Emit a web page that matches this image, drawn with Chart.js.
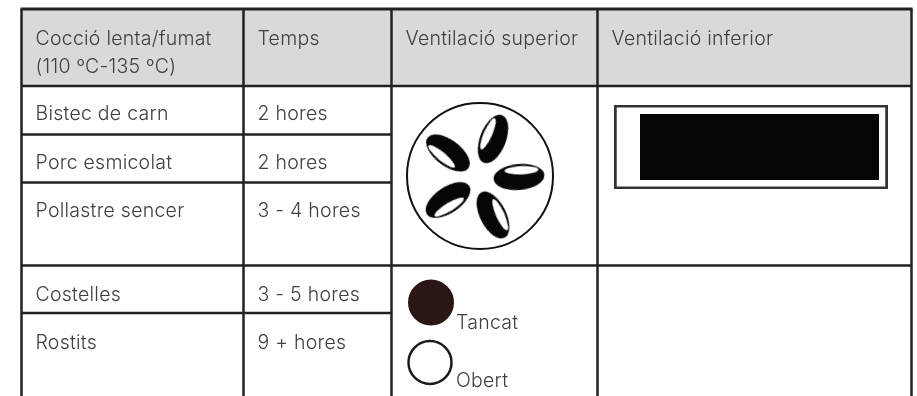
<!DOCTYPE html>
<html>
<head>
<meta charset="utf-8">
<style>
  html, body { margin: 0; padding: 0; background: #fff; }
  #wrap { position: relative; width: 917px; height: 396px; }
</style>
<script src="https://cdn.jsdelivr.net/npm/chart.js@4"></script>
</head>
<body>
<div id="wrap"><canvas id="tableChart"></canvas></div>
<script>
// table content
const headers = ["Cocció lenta/fumat", "Temps", "Ventilació superior", "Ventilació inferior"];
const headerSub = "(110 ºC-135 ºC)";
const foods = ["Bistec de carn", "Porc esmicolat", "Pollastre sencer", "Costelles", "Rostits"];
const times = ["2 hores", "2 hores", "3 - 4 hores", "3 - 5 hores", "9 + hores"];
const legendLabels = ["Tancat", "Obert"];

// the scales run in picture units, these are the grid lines of the table
const columnEdges = [21.5, 243.5, 391.5, 597.5, 911.5];
const rowEdges = [9, 86, 134.5, 182.5, 265.5, 313, 396];

// fan icon: five slots around the damper
const fanCentre = [480, 176];
const slotX = [448, 493, 519, 448, 493];
const slotY = [153, 139, 177, 200, 215];
const slotAngle = [37, 111, 175, -34, -117];

function slotImage() {
  const c = document.createElement("canvas");
  c.width = 54; c.height = 30;
  const g = c.getContext("2d");
  g.fillStyle = "#060606";
  g.beginPath(); g.ellipse(27, 15, 25.5, 13, 0, 0, Math.PI * 2); g.fill();
  g.fillStyle = "#fff";
  g.beginPath(); g.ellipse(24, 21.5, 17, 4.2, 0.05, 0, Math.PI * 2); g.fill();
  return c;
}

function hLine(x0, x1, y, w) {
  return { data: [{ x: x0, y: y }, { x: x1, y: y }], showLine: true, borderColor: "#222", borderWidth: w || 2.5, pointRadius: 0, order: 5 };
}
function vLine(x, y0, y1, w) {
  return { data: [{ x: x, y: y0 }, { x: x, y: y1 }], showLine: true, borderColor: "#222", borderWidth: w || 2.5, pointRadius: 0, order: 5 };
}
function box(x0, x1, y0, y1, colour, order) {
  return { data: [{ x: x0, y: y0 }, { x: x1, y: y0 }], showLine: true, borderWidth: 0, borderColor: colour, backgroundColor: colour, pointRadius: 0, fill: { target: { value: y1 } }, order: order };
}

const datasets = [];
datasets.push(box(columnEdges[0], columnEdges[4], rowEdges[0], rowEdges[1], "#d9d9d9", 9));
// outer frame and header
datasets.push(hLine(columnEdges[0] - 1, columnEdges[4] + 1, rowEdges[0], 3));
datasets.push(hLine(columnEdges[0], columnEdges[4], rowEdges[1]));
datasets.push(hLine(columnEdges[0], columnEdges[4], rowEdges[4]));
columnEdges.forEach(function (x) {
  datasets.push(vLine(x, rowEdges[0], rowEdges[6]));
});
// the inner row lines stop at the vent cells
[2, 3, 5].forEach(function (r) {
  datasets.push(hLine(columnEdges[0], columnEdges[2], rowEdges[r]));
});
// fan
datasets.push({
  data: [{ x: fanCentre[0], y: fanCentre[1] }],
  pointRadius: 73, pointBackgroundColor: "#fff", pointBorderColor: "#111", pointBorderWidth: 2, order: 4
});
datasets.push({
  data: slotX.map(function (x, i) { return { x: x, y: slotY[i] }; }),
  pointStyle: slotImage(), pointRotation: slotAngle, pointRadius: 27, order: 3
});
// lower vent
datasets.push(box(614, 888, 105, 189, "#333", 4));
datasets.push(box(616.5, 885.5, 107.5, 186.5, "#fff", 3));
datasets.push(box(640, 879, 114, 180, "#050505", 2));
// legend marks
datasets.push({
  data: [{ x: 431, y: 302.5 }, { x: 430, y: 362.5 }],
  pointRadius: [22, 21.5], pointBackgroundColor: ["#2a1715", "#fff"], pointBorderColor: ["#2a1715", "#1a1a1a"], pointBorderWidth: [2, 2.5], order: 1
});

const cellText = {
  id: "cellText",
  afterDatasetsDraw(chart) {
    const { ctx, scales: { x, y } } = chart;
    const put = function (txt, vx, vy) { ctx.fillText(txt, x.getPixelForValue(vx), y.getPixelForValue(vy)); };
    ctx.save();
    ctx.font = "300 19.5px Inter";
    ctx.letterSpacing = "0.25px";
    ctx.fillStyle = "#404040";
    ctx.textBaseline = "alphabetic";
    headers.forEach(function (h, i) { put(h, columnEdges[i] + 14, 44.5); });
    put(headerSub, columnEdges[0] + 14, 72.5);
    const rowBase = [120, 168.5, 216.5, 300.5, 348.5];
    foods.forEach(function (f, i) { put(f, columnEdges[0] + 14, rowBase[i]); });
    times.forEach(function (t, i) { put(t, columnEdges[1] + 14, rowBase[i]); });
    put(legendLabels[0], 456, 328.5);
    put(legendLabels[1], 456, 386.5);
    ctx.restore();
  }
};

new Chart(document.getElementById("tableChart"), {
  type: "scatter",
  data: { datasets: datasets },
  plugins: [cellText],
  options: {
    responsive: true,
    maintainAspectRatio: false,
    animation: false,
    layout: { padding: 0, autoPadding: false },
    plugins: { legend: { display: false }, tooltip: { enabled: false }, title: { display: false } },
    scales: {
      x: { type: "linear", min: 0, max: 917, display: false },
      y: { type: "linear", min: 0, max: 396, reverse: true, display: false }
    }
  }
});
</script>
</body>
</html>
